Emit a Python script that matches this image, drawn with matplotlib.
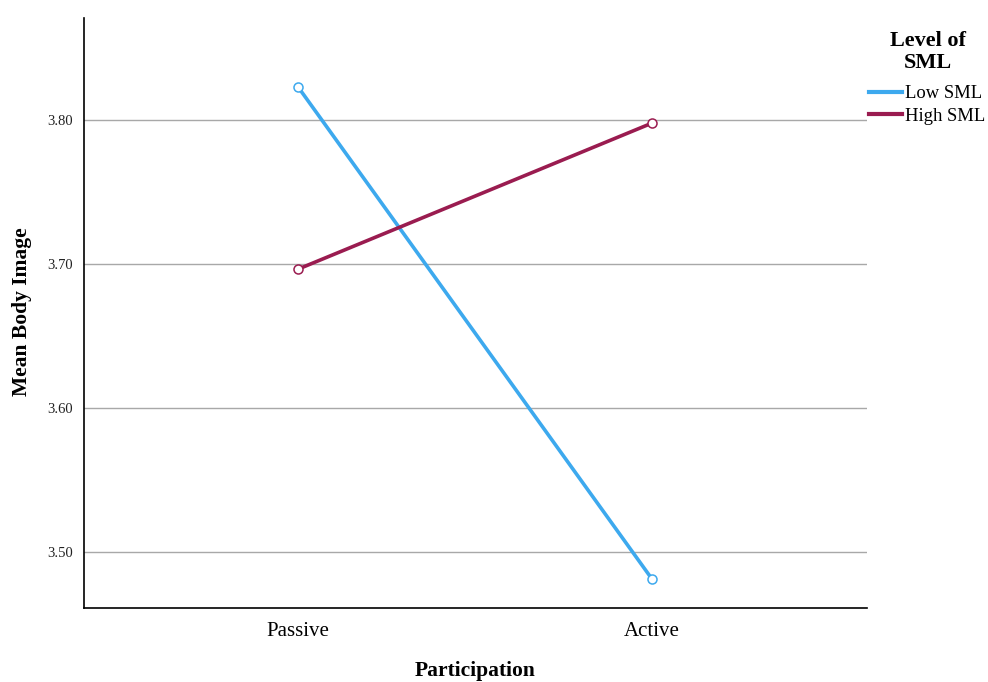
import matplotlib
matplotlib.use('Agg')
import matplotlib.pyplot as plt
from matplotlib.lines import Line2D

plt.rcParams['font.family'] = ['Liberation Serif', 'DejaVu Serif']

participation = ['Passive', 'Active']
low_sml = [3.823, 3.481]
high_sml = [3.6965, 3.798]
y_ticks = [3.50, 3.60, 3.70, 3.80]

blue = '#3DA9EE'
maroon = '#9A1C50'

W, H = 988., 682.
fig = plt.figure(figsize=(W / 100, H / 100), dpi=100)
ax = fig.add_axes([84 / W, 1 - 608 / H, (867 - 84) / W, (608 - 18) / H])

x = list(range(len(participation)))
ax.plot(x, low_sml, c=blue, lw=2.6, marker='o', ms=6.5, mfc='white', mec=blue, mew=1.1,
        zorder=3)
ax.plot(x, high_sml, c=maroon, lw=2.6, marker='o', ms=6.5, mfc='white', mec=maroon, mew=1.1,
        zorder=3)

ax.set_xlim(-0.605, 1.607)
ax.set_ylim(3.461, 3.871)
ax.set_xticks(x)
ax.set_xticklabels(participation, fontsize=15)
ax.set_yticks(y_ticks)
ax.set_yticklabels(['{:.2f}'.format(v) for v in y_ticks], fontsize=10.5, color='#222222')
ax.tick_params(length=0, pad=8)
ax.tick_params(axis='x', pad=10)

ax.grid(axis='y', color='#a8a8a8', lw=1)
ax.set_axisbelow(True)
for s in ['top', 'right']:
    ax.spines[s].set_visible(False)
for s in ['left', 'bottom']:
    ax.spines[s].set_linewidth(1.2)

fig.text(475 / W, 1 - 671 / H, 'Participation', fontsize=15.5, fontweight='bold',
         ha='center', va='center')
fig.text(22 / W, 1 - 312 / H, 'Mean Body Image', fontsize=15.5, fontweight='bold',
         rotation=90, ha='center', va='center')

# legend
fig.text(928 / W, 1 - 52 / H, 'Level of\nSML', fontsize=16, fontweight='bold',
         ha='center', va='center', linespacing=1.08)
handles = [Line2D([], [], c=blue, lw=3), Line2D([], [], c=maroon, lw=3)]
fig.legend(handles, ['Low SML', 'High SML'], loc='upper left',
           bbox_to_anchor=(869 / W, 1 - 85 / H), frameon=False, fontsize=13.4,
           handlelength=1.75, handletextpad=0.2, labelspacing=0.3, borderaxespad=0,
           borderpad=0)

fig.savefig('out.png', dpi=100)
